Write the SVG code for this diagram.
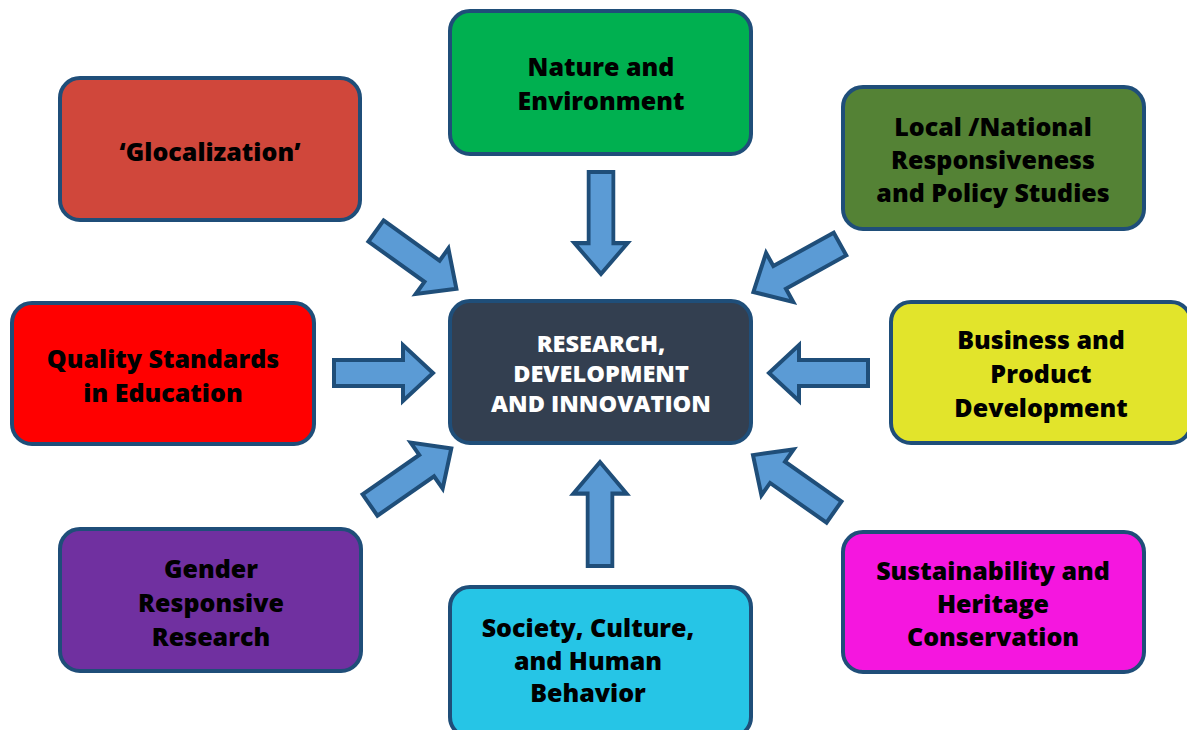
<svg xmlns="http://www.w3.org/2000/svg" xmlns:xlink="http://www.w3.org/1999/xlink" width="1187" height="730" viewBox="0 0 1187 730">
  <style>
    .box { stroke: #1F4E79; stroke-width: 4; }
    .lbl { font-family: "Open Sans", "Liberation Sans", sans-serif; font-weight: 800; font-size: 25px; fill: #000; text-anchor: middle; }
    .core { font-family: "Open Sans", "Liberation Sans", sans-serif; font-weight: 800; font-size: 23.5px; fill: #fff; text-anchor: middle; }
    .arr { fill: #5B9BD5; stroke: #1F4E79; stroke-width: 4; stroke-linejoin: miter; }
  </style>
  <defs>
    <!-- block arrow pointing along +x, tail at origin -->
    <polygon id="blockArrow" points="0,-13 69,-13 69,-28 99,0 69,28 69,13 0,13"/>
  </defs>

  <rect width="1187" height="730" fill="#fff"/>

  <!-- connectors: block arrows toward the centre -->
  <g id="connectors" class="arr">
    <use xlink:href="#blockArrow" transform="translate(334,373)"/>
    <use xlink:href="#blockArrow" transform="translate(868,373) rotate(180)"/>
    <use xlink:href="#blockArrow" transform="translate(601,172) rotate(90) scale(1.03,0.95)"/>
    <use xlink:href="#blockArrow" transform="translate(600,566) rotate(-90) scale(1.05,0.95)"/>
    <use xlink:href="#blockArrow" transform="translate(376,231) rotate(35.7)"/>
    <use xlink:href="#blockArrow" transform="translate(840,244) rotate(151)"/>
    <use xlink:href="#blockArrow" transform="translate(370,505) rotate(-34.8)"/>
    <use xlink:href="#blockArrow" transform="translate(834,512) rotate(-144.9)"/>
  </g>

  <g id="node-center">
    <rect class="box" x="450" y="301" width="301" height="142" rx="20" fill="#333F50"/>
    <text class="core" x="601" y="352">RESEARCH,</text>
    <text class="core" x="601" y="382">DEVELOPMENT</text>
    <text class="core" x="601" y="412">AND INNOVATION</text>
  </g>

  <g id="node-glocalization">
    <rect class="box" x="60" y="78" width="300" height="142" rx="20" fill="#D0473B"/>
    <text class="lbl" x="210" y="161">‘Glocalization’</text>
  </g>

  <g id="node-nature">
    <rect class="box" x="450" y="11" width="301" height="143" rx="20" fill="#00B050"/>
    <text class="lbl" x="601" y="76">Nature and</text>
    <text class="lbl" x="601" y="110">Environment</text>
  </g>

  <g id="node-local">
    <rect class="box" x="843" y="87" width="301" height="142" rx="20" fill="#548235"/>
    <text class="lbl" x="993" y="136">Local /National</text>
    <text class="lbl" x="993" y="169">Responsiveness</text>
    <text class="lbl" x="993" y="202">and Policy Studies</text>
  </g>

  <g id="node-quality">
    <rect class="box" x="12" y="303" width="302" height="141" rx="20" fill="#FF0000"/>
    <text class="lbl" x="163" y="368">Quality Standards</text>
    <text class="lbl" x="163" y="402">in Education</text>
  </g>

  <g id="node-business">
    <rect class="box" x="891" y="302" width="300" height="141" rx="20" fill="#E2E42B"/>
    <text class="lbl" x="1041" y="349">Business and</text>
    <text class="lbl" x="1041" y="383">Product</text>
    <text class="lbl" x="1041" y="417">Development</text>
  </g>

  <g id="node-gender">
    <rect class="box" x="60" y="529" width="301" height="142" rx="20" fill="#7030A0"/>
    <text class="lbl" x="211" y="578">Gender</text>
    <text class="lbl" x="211" y="612">Responsive</text>
    <text class="lbl" x="211" y="646">Research</text>
  </g>

  <g id="node-society">
    <rect class="box" x="450" y="587" width="301" height="150" rx="20" fill="#26C5E6"/>
    <text class="lbl" x="588" y="637">Society, Culture,</text>
    <text class="lbl" x="588" y="670">and Human</text>
    <text class="lbl" x="588" y="702">Behavior</text>
  </g>

  <g id="node-sustainability">
    <rect class="box" x="843" y="532" width="301" height="140" rx="20" fill="#F516DF"/>
    <text class="lbl" x="993" y="580">Sustainability and</text>
    <text class="lbl" x="993" y="613">Heritage</text>
    <text class="lbl" x="993" y="646">Conservation</text>
  </g>
</svg>
